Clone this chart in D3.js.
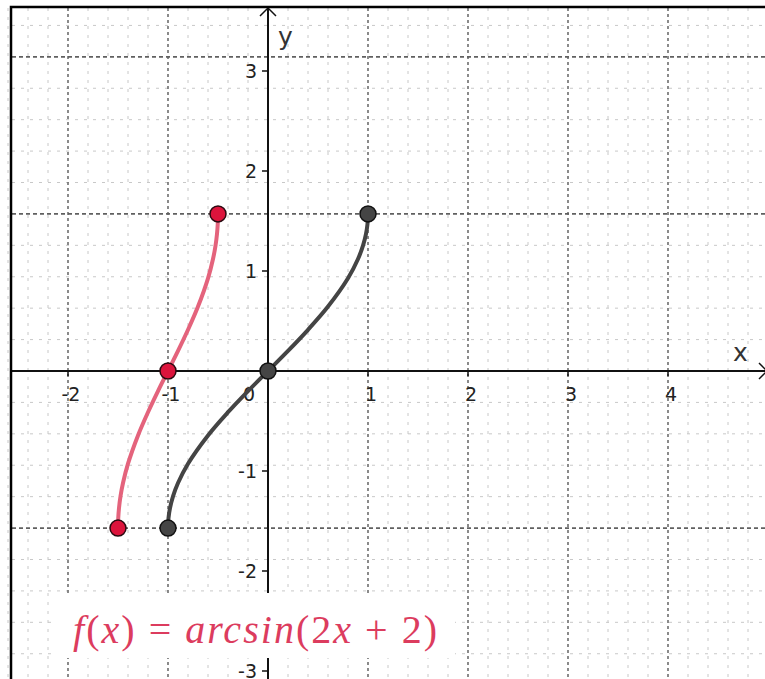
<!DOCTYPE html>
<html>
<head>
<meta charset="utf-8">
<script src="https://cdn.jsdelivr.net/npm/d3@7"></script>
<style>
    body { margin: 0; background: #fff; }
    svg { display: block; }
</style>
</head>
<body>
<svg id="plot"></svg>
<script>
// values
const xTickValues = [-2, -1, 0, 1, 2, 3, 4];
const xTickLabels = ['-2', '-1', '0', '1', '2', '3', '4'];
const yTickValues = [-3, -2, -1, 1, 2, 3];
const yTickLabels = ['-3', '-2', '-1', '1', '2', '3'];

// curve y = arcsin(x), sampled off the dark line
const darkX = [-1, -0.995, -0.98, -0.95, -0.9, -0.8, -0.6, -0.4, -0.2, 0, 0.2, 0.4, 0.6, 0.8, 0.9, 0.95, 0.98, 0.995, 1];
const darkY = [-1.571, -1.471, -1.371, -1.253, -1.120, -0.927, -0.644, -0.412, -0.201, 0, 0.201, 0.412, 0.644, 0.927, 1.120, 1.253, 1.371, 1.471, 1.571];
// curve f(x) = arcsin(2x + 2), sampled off the red line
const redX = [-1.5, -1.4975, -1.49, -1.475, -1.45, -1.4, -1.3, -1.2, -1.1, -1, -0.9, -0.8, -0.7, -0.6, -0.55, -0.525, -0.51, -0.5025, -0.5];
const redY = [-1.571, -1.471, -1.371, -1.253, -1.120, -0.927, -0.644, -0.412, -0.201, 0, 0.201, 0.412, 0.644, 0.927, 1.120, 1.253, 1.371, 1.471, 1.571];

const darkPtsX = [-1, 0, 1];
const darkPtsY = [-1.571, 0, 1.571];
const redPtsX = [-1.5, -1, -0.5];
const redPtsY = [-1.571, 0, 1.571];

const formulaParts = [
    {t: 'f', it: true}, {t: '(', it: false}, {t: 'x', it: true}, {t: ') = ', it: false},
    {t: 'arcsin', it: true}, {t: '(2', it: false}, {t: 'x', it: true}, {t: ' + 2)', it: false}
];

const W = 765, H = 679;
const padLeft = 12, padTop = 8;

const svg = d3.select('#plot')
    .attr('width', W)
    .attr('height', H);

// 100px per unit, origin at (268, 371)
const x = d3.scaleLinear().domain([-2.68, 4.97]).range([0, W]);
const y = d3.scaleLinear().domain([3.71, -3.08]).range([0, H]);

const grid = svg.append('g');

// minor grid
const xMinor = d3.range(-13, 25).map(k => k * 0.2).filter(v => Math.abs(v - Math.round(v)) > 1e-6);
grid.selectAll('.xminor').data(xMinor).join('line')
    .attr('x1', d => x(d)).attr('x2', d => x(d))
    .attr('y1', padTop).attr('y2', H)
    .attr('stroke', '#c8c8c8').attr('stroke-width', 1)
    .attr('stroke-dasharray', '3,6');

const yMinor = d3.range(-9, 12).map(k => k * Math.PI / 10).filter((v, i) => (i - 9) % 5 !== 0);
grid.selectAll('.yminor').data(yMinor).join('line')
    .attr('x1', padLeft).attr('x2', W)
    .attr('y1', d => y(d)).attr('y2', d => y(d))
    .attr('stroke', '#c8c8c8').attr('stroke-width', 1)
    .attr('stroke-dasharray', '3,6');

// major grid
grid.selectAll('.xmajor').data([-2, -1, 1, 2, 3, 4]).join('line')
    .attr('x1', d => x(d)).attr('x2', d => x(d))
    .attr('y1', padTop).attr('y2', H)
    .attr('stroke', '#6e6e6e').attr('stroke-width', 1.6)
    .attr('stroke-dasharray', '3,3');

grid.selectAll('.ymajor').data([-Math.PI / 2, Math.PI / 2, Math.PI]).join('line')
    .attr('x1', padLeft).attr('x2', W)
    .attr('y1', d => y(d)).attr('y2', d => y(d))
    .attr('stroke', '#606060').attr('stroke-width', 1.6)
    .attr('stroke-dasharray', '4,3');

// axes
const axes = svg.append('g');
axes.append('line')
    .attr('x1', padLeft).attr('x2', W).attr('y1', y(0)).attr('y2', y(0))
    .attr('stroke', '#111').attr('stroke-width', 2);
axes.append('line')
    .attr('x1', x(0)).attr('x2', x(0)).attr('y1', padTop).attr('y2', H)
    .attr('stroke', '#111').attr('stroke-width', 2);
axes.append('path')
    .attr('d', `M${x(0) - 8},${padTop + 8} L${x(0)},${padTop} L${x(0) + 8},${padTop + 8}`)
    .attr('fill', 'none').attr('stroke', '#111').attr('stroke-width', 1.5);
axes.append('path')
    .attr('d', `M${W - 6},${y(0) - 8} L${W + 2},${y(0)} L${W - 6},${y(0) + 8}`)
    .attr('fill', 'none').attr('stroke', '#111').attr('stroke-width', 1.5);

// ticks
axes.selectAll('.ytick').data(yTickValues).join('line')
    .attr('x1', x(0) - 6).attr('x2', x(0))
    .attr('y1', d => y(d)).attr('y2', d => y(d))
    .attr('stroke', '#111').attr('stroke-width', 1.5);

axes.selectAll('.xtick').data(xTickValues.filter(d => d !== 0)).join('line')
    .attr('x1', d => x(d)).attr('x2', d => x(d))
    .attr('y1', y(0)).attr('y2', y(0) + 5)
    .attr('stroke', '#111').attr('stroke-width', 1.5);

const labelFont = '"DejaVu Sans", "Liberation Sans", sans-serif';

axes.selectAll('.xlabel').data(xTickValues).join('text')
    .attr('x', d => d === 0 ? x(0) - 25 : x(d) + 3)
    .attr('y', y(0) + 30)
    .attr('text-anchor', d => d === 0 ? 'start' : 'middle')
    .attr('font-family', labelFont).attr('font-size', 19)
    .attr('fill', '#222')
    .text((d, i) => xTickLabels[i]);

axes.selectAll('.ylabel').data(yTickValues).join('text')
    .attr('x', x(0) - 11)
    .attr('y', d => y(d) + 7)
    .attr('text-anchor', 'end')
    .attr('font-family', labelFont).attr('font-size', 19)
    .attr('fill', '#222')
    .text((d, i) => yTickLabels[i]);

axes.append('text')
    .attr('x', 733).attr('y', y(0) - 10)
    .attr('font-family', labelFont).attr('font-size', 25).attr('fill', '#333')
    .text('x');
axes.append('text')
    .attr('x', 278).attr('y', 45)
    .attr('font-family', labelFont).attr('font-size', 25).attr('fill', '#333')
    .text('y');

// frame
svg.append('path')
    .attr('d', `M${padLeft - 1},${H} L${padLeft - 1},${padTop - 1} L${W},${padTop - 1}`)
    .attr('fill', 'none').attr('stroke', '#000').attr('stroke-width', 2.5);

// formula box
svg.append('rect')
    .attr('x', 55).attr('y', 593).attr('width', 400).attr('height', 65)
    .attr('fill', '#fff');

const formula = svg.append('text')
    .attr('x', 73).attr('y', 643)
    .attr('font-family', '"Liberation Serif", "DejaVu Serif", serif')
    .attr('font-size', 40)
    .attr('textLength', 364)
    .attr('lengthAdjust', 'spacing')
    .attr('fill', '#dc3c5e');
formula.selectAll('tspan').data(formulaParts).join('tspan')
    .attr('font-style', d => d.it ? 'italic' : 'normal')
    .text(d => d.t);

// curves
const line = d3.line()
    .x(d => x(d[0]))
    .y(d => y(d[1]))
    .curve(d3.curveCatmullRom);

svg.append('path')
    .datum(d3.zip(darkX, darkY))
    .attr('d', line)
    .attr('fill', 'none').attr('stroke', '#444').attr('stroke-width', 4);

svg.append('path')
    .datum(d3.zip(redX, redY))
    .attr('d', line)
    .attr('fill', 'none').attr('stroke', '#e4637c').attr('stroke-width', 4);

svg.selectAll('.darkpt').data(d3.zip(darkPtsX, darkPtsY)).join('circle')
    .attr('cx', d => x(d[0])).attr('cy', d => y(d[1])).attr('r', 8)
    .attr('fill', '#454545').attr('stroke', '#111').attr('stroke-width', 1.5);

svg.selectAll('.redpt').data(d3.zip(redPtsX, redPtsY)).join('circle')
    .attr('cx', d => x(d[0])).attr('cy', d => y(d[1])).attr('r', 8)
    .attr('fill', '#dc143c').attr('stroke', '#2a0a10').attr('stroke-width', 1.5);
</script>
</body>
</html>
